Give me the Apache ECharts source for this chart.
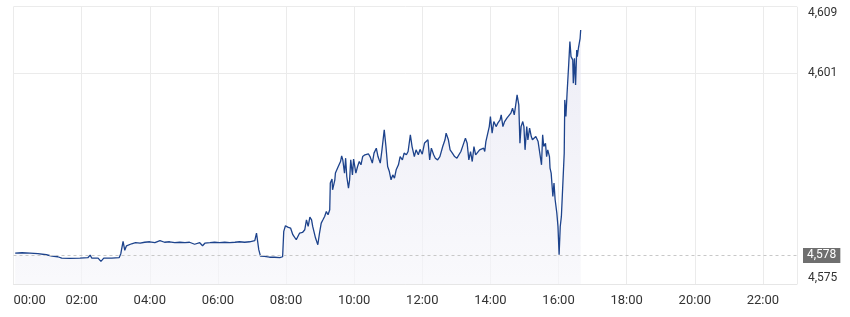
<!DOCTYPE html>
<html><head><meta charset="utf-8">
<script src="https://cdn.jsdelivr.net/npm/echarts@6/dist/echarts.min.js"></script>
<style>html,body{margin:0;padding:0;background:#fff}#c{width:850px;height:317px}</style>
</head><body><div id="c"></div>
<script>
// minutes since 00:00
const timesMin = [3,6,15,29,43,58,68,78,85,99,117,131,135,138,149,154,159,173,186,189,193,196,199,208,215,223,231,240,249,258,266,275,284,293,302,310,319,328,333,337,346,354,363,372,381,390,398,407,416,425,428,432,435,442,451,460,469,474,
476,479,483,488,492,498,501,504,509,513,516,519,522,525,527,532,536,539,542,545,548,551,554,557,558,561,562,566,567,570,572,576,578,580,583,585,587,590,592,594,597,599,603,606,609,612,615,619,621,625,628,632,635,639,642,646,649,653,656,659,662,665,668,671,674,678,681,685,688,692,695,699,702,706,709,713,716,720,724,727,730,733,736,740,743,747,751,756,760,762,766,769,773,777,781,784,788,792,796,799,802,805,808,811,814,817,821,824,828,830,832,835,838,840,843,846,850,853,857,859,862,865,869,872,876,879,882,885,887,890,892,894,897,899,901,904,906,909,912,914,917,920,924,927,930,932,934,937,939,941,944,945,947,950,952,954,957,959,961,963,965,967,970,971,973,975,978,980,982,985,986,988,990,992,993,995,998,999];
const prices = [4578.56,4578.76,4578.60,4578.54,4578.48,4578.35,4578.17,4578.10,4577.94,4577.90,4577.92,4577.98,4578.30,4577.92,4577.92,4577.52,4577.92,4577.92,4577.98,4578.48,4580.01,4578.90,4579.47,4579.72,4579.85,4579.79,4579.91,4579.97,4579.85,4580.10,4579.91,4579.97,4579.85,4579.91,4579.85,4579.91,4579.66,4579.85,4579.47,4579.79,4579.85,4579.91,4579.85,4579.91,4579.85,4579.91,4579.97,4579.91,4579.97,4580.10,4581.06,4578.98,4578.17,4578.14,4578.04,4578.04,4577.98,4578.10,
4581.26,4581.97,4581.80,4581.68,4580.85,4580.22,4580.43,4581.06,4581.13,4581.47,4582.71,4581.88,4583.05,4582.71,4581.88,4580.43,4579.60,4581.06,4582.30,4582.71,4583.13,4583.75,4583.34,4583.96,4587.29,4587.79,4586.45,4587.70,4588.54,4588.73,4589.36,4589.98,4590.69,4590.19,4588.54,4590.40,4588.11,4586.67,4587.70,4590.19,4588.32,4590.28,4588.54,4589.36,4589.98,4589.57,4590.60,4590.82,4591.03,4590.95,4590.60,4589.78,4591.03,4591.65,4590.60,4589.78,4591.44,4593.93,4591.85,4589.36,4588.73,4587.70,4588.32,4587.91,4588.95,4589.57,4590.60,4590.19,4591.03,4590.82,4591.23,4593.31,4591.85,4590.60,4591.44,4590.82,4591.50,4590.90,4592.30,4592.06,4592.69,4590.19,4591.65,4590.82,4590.40,4590.19,4590.60,4591.85,4592.69,4593.52,4592.69,4591.44,4591.03,4590.60,4590.40,4590.19,4591.23,4592.06,4592.90,4592.27,4590.19,4591.23,4589.98,4591.85,4590.82,4590.60,4591.44,4591.23,4591.65,4591.23,4592.47,4592.69,4594.34,4595.59,4593.52,4594.97,4594.34,4594.77,4595.18,4595.80,4594.34,4594.97,4595.39,4595.59,4596.01,4596.64,4595.80,4597.26,4598.29,4597.05,4592.27,4594.34,4594.97,4594.34,4591.44,4594.34,4592.69,4594.14,4593.10,4592.69,4592.47,4593.10,4592.47,4592.69,4589.57,4593.31,4591.85,4592.27,4590.60,4591.44,4590.60,4589.16,4588.54,4585.62,4587.29,4585.21,4583.55,4581.88,4578.35,4581.88,4583.13,4583.13,4591.03,4597.67,4595.59,4598.51,4602.25,4604.94,4603.07,4602.66,4599.75,4602.87,4599.54,4603.90,4603.07,4604.12,4605.36,4606.40];
const yTicks = [4574.7, 4601, 4609.3];
const yMin = 4574.7, yMax = 4609.3;
const prevClose = 4578.26;
const xMax = 1380, xStep = 120;

function hhmm(m){const h=Math.floor(m/60), mm=Math.round(m%60);return String(h).padStart(2,'0')+':'+String(mm).padStart(2,'0');}
function fmtPrice(v){return Math.round(v).toLocaleString('en-US');}

const data = timesMin.map((t,i)=>[t, prices[i]]);
const font = 'Roboto, "Noto Sans", sans-serif';
const chart = echarts.init(document.getElementById('c'), null, {renderer:'canvas'});
chart.setOption({
  animation:false,
  grid:{left:13.5,right:53,top:6.7,bottom:33,containLabel:false,outerBoundsMode:'none'},
  xAxis:{type:'value',min:0,max:xMax,interval:xStep,
    axisLine:{show:true,lineStyle:{color:'#e6e6e6'}},
    axisTick:{show:false},
    splitLine:{show:true,lineStyle:{color:'#ebebeb',width:1}},
    axisLabel:{color:'#333',fontSize:13,fontFamily:font,margin:10,formatter:v=>hhmm(v),showMaxLabel:false,alignMinLabel:'left'}
  },
  yAxis:{type:'value',position:'right',min:yMin,max:yMax,scale:true,
    axisLine:{show:false},
    axisTick:{show:false,customValues:yTicks},
    splitLine:{show:true,lineStyle:{color:'#ebebeb',width:1}},
    axisLabel:{customValues:yTicks,color:'#333',fontSize:12,fontFamily:font,margin:11,
      formatter:v=>fmtPrice(v),verticalAlignMaxLabel:'top',verticalAlignMinLabel:'bottom'}
  },
  series:[{
    type:'line',data:data,showSymbol:false,symbol:'none',
    lineStyle:{color:'#1d438c',width:1.3},
    areaStyle:{color:new echarts.graphic.LinearGradient(0,0,0,1,[{offset:0,color:'#e4e4f1'},{offset:1,color:'#f6f6fa'}])},
    markLine:{silent:true,symbol:'none',animation:false,
      lineStyle:{color:'#c8c8c8',type:[3,3],width:1},
      label:{position:'end',distance:6,formatter:()=>fmtPrice(prevClose),color:'#fff',backgroundColor:'#6f6f6f',padding:[2,4,1,4],fontSize:12,fontFamily:font},
      data:[{yAxis:prevClose}]
    }
  }]
});
</script></body></html>
